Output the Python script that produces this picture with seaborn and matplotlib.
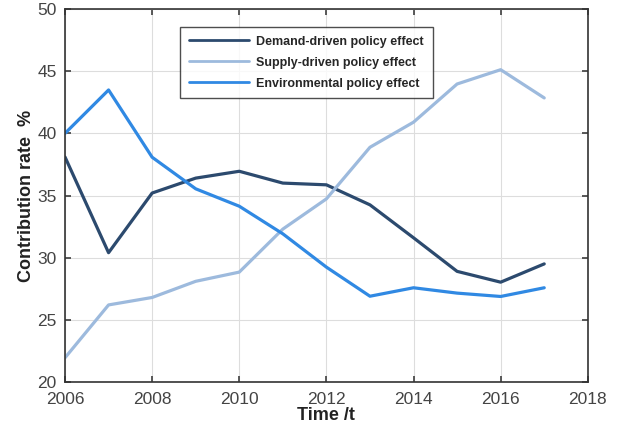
import matplotlib
matplotlib.use("Agg")
import matplotlib.pyplot as plt
import seaborn as sns
import pandas as pd

years = list(range(2006, 2018))
demand = [38.1, 30.4, 35.2, 36.4, 36.95, 36.0, 35.86, 34.25, 31.6, 28.9, 28.03, 29.5]
supply = [21.95, 26.2, 26.8, 28.1, 28.84, 32.3, 34.73, 38.88, 40.9, 43.97, 45.12, 42.85]
environmental = [40.0, 43.49, 38.08, 35.54, 34.14, 31.92, 29.24, 26.9, 27.58, 27.15, 26.88, 27.58]
series_names = ["Demand-driven policy effect", "Supply-driven policy effect", "Environmental policy effect"]
colors = ["#2c4a6e", "#9dbadd", "#3089e3"]
xticks = [2006, 2008, 2010, 2012, 2014, 2016, 2018]
yticks = [20, 25, 30, 35, 40, 45, 50]

df = pd.DataFrame({"year": years * 3,
                   "value": demand + supply + environmental,
                   "series": sum([[n] * len(years) for n in series_names], [])})

sns.set_theme(style="white")
plt.rcParams['font.family'] = ['Liberation Sans', 'DejaVu Sans']

fig = plt.figure(figsize=(6.22, 4.30), dpi=100)
ax = fig.add_axes([0.1045, 0.1116, 0.8405, 0.8674])
sns.lineplot(data=df, x="year", y="value", hue="series", palette=colors,
             hue_order=series_names, linewidth=2.3, ax=ax, legend=True)

ax.set_xlim(2006, 2018)
ax.set_ylim(20, 50)
ax.set_xticks(xticks)
ax.set_yticks(yticks)
ax.grid(True, color="#dddddd", linewidth=0.8)
ax.tick_params(direction="in", length=4, colors="#444444", labelsize=12.5,
               top=True, right=True, bottom=True, left=True)
ax.tick_params(axis="x", pad=7)
ax.tick_params(axis="y", pad=6)
for lab in ax.get_xticklabels() + ax.get_yticklabels():
    lab.set_color("#444444")
for s in ax.spines.values():
    s.set_color("#333333")
    s.set_linewidth(1.2)
ax.set_xlabel("Time /t", fontsize=13, fontweight="bold", labelpad=0, color="#222222")
ax.set_ylabel("Contribution rate  %", fontsize=13, fontweight="bold", labelpad=2, color="#222222")

leg = ax.legend(loc="upper left", bbox_to_anchor=(0.22, 0.952), borderaxespad=0,
                prop={"weight": "bold", "size": 9},
                frameon=True, fancybox=False, edgecolor="#222222",
                handlelength=4.8, handletextpad=0.6, borderpad=0.7, labelspacing=0.72)
leg.get_frame().set_linewidth(1.0)
for h in leg.get_lines():
    h.set_linewidth(2.0)

fig.savefig("out.png", dpi=100)
